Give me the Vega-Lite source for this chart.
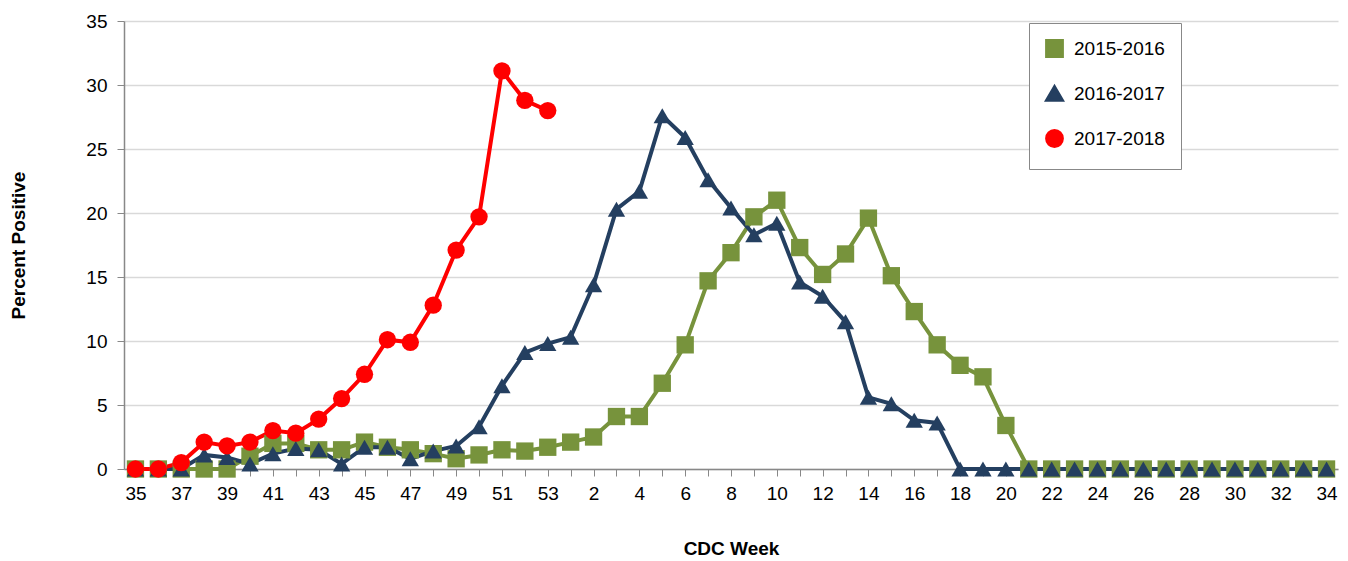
{
  "$schema": "https://vega.github.io/schema/vega-lite/v6.json",
  "width": 1348,
  "height": 561,
  "autosize": {"type": "fit", "contains": "padding"},
  "padding": {"left": 9, "top": 12, "right": 10, "bottom": 3},
  "config": {"font": "Liberation Sans", "view": {"stroke": null}},
  "data": {"name": "rows", "values": [
    {"season": "2015-2016", "week": "35", "value": 0}, {"season": "2015-2016", "week": "36", "value": 0}, {"season": "2015-2016", "week": "37", "value": 0}, {"season": "2015-2016", "week": "38", "value": 0}, {"season": "2015-2016", "week": "39", "value": 0}, {"season": "2015-2016", "week": "40", "value": 1.0}, {"season": "2015-2016", "week": "41", "value": 2.0}, {"season": "2015-2016", "week": "42", "value": 2.0}, {"season": "2015-2016", "week": "43", "value": 1.5}, {"season": "2015-2016", "week": "44", "value": 1.5}, {"season": "2015-2016", "week": "45", "value": 2.1}, {"season": "2015-2016", "week": "46", "value": 1.7}, {"season": "2015-2016", "week": "47", "value": 1.5}, {"season": "2015-2016", "week": "48", "value": 1.2}, {"season": "2015-2016", "week": "49", "value": 0.8}, {"season": "2015-2016", "week": "50", "value": 1.1}, {"season": "2015-2016", "week": "51", "value": 1.5}, {"season": "2015-2016", "week": "52", "value": 1.4}, {"season": "2015-2016", "week": "53", "value": 1.7},
    {"season": "2015-2016", "week": "1", "value": 2.1}, {"season": "2015-2016", "week": "2", "value": 2.5}, {"season": "2015-2016", "week": "3", "value": 4.1}, {"season": "2015-2016", "week": "4", "value": 4.1}, {"season": "2015-2016", "week": "5", "value": 6.7}, {"season": "2015-2016", "week": "6", "value": 9.7}, {"season": "2015-2016", "week": "7", "value": 14.7}, {"season": "2015-2016", "week": "8", "value": 16.9}, {"season": "2015-2016", "week": "9", "value": 19.7}, {"season": "2015-2016", "week": "10", "value": 21.0}, {"season": "2015-2016", "week": "11", "value": 17.3}, {"season": "2015-2016", "week": "12", "value": 15.2}, {"season": "2015-2016", "week": "13", "value": 16.8}, {"season": "2015-2016", "week": "14", "value": 19.6}, {"season": "2015-2016", "week": "15", "value": 15.1}, {"season": "2015-2016", "week": "16", "value": 12.3}, {"season": "2015-2016", "week": "17", "value": 9.7}, {"season": "2015-2016", "week": "18", "value": 8.1}, {"season": "2015-2016", "week": "19", "value": 7.2}, {"season": "2015-2016", "week": "20", "value": 3.4},
    {"season": "2015-2016", "week": "21", "value": 0}, {"season": "2015-2016", "week": "22", "value": 0}, {"season": "2015-2016", "week": "23", "value": 0}, {"season": "2015-2016", "week": "24", "value": 0}, {"season": "2015-2016", "week": "25", "value": 0}, {"season": "2015-2016", "week": "26", "value": 0}, {"season": "2015-2016", "week": "27", "value": 0}, {"season": "2015-2016", "week": "28", "value": 0}, {"season": "2015-2016", "week": "29", "value": 0}, {"season": "2015-2016", "week": "30", "value": 0}, {"season": "2015-2016", "week": "31", "value": 0}, {"season": "2015-2016", "week": "32", "value": 0}, {"season": "2015-2016", "week": "33", "value": 0}, {"season": "2015-2016", "week": "34", "value": 0},

    {"season": "2016-2017", "week": "35", "value": 0}, {"season": "2016-2017", "week": "36", "value": 0}, {"season": "2016-2017", "week": "37", "value": 0}, {"season": "2016-2017", "week": "38", "value": 1.1}, {"season": "2016-2017", "week": "39", "value": 0.9}, {"season": "2016-2017", "week": "40", "value": 0.4}, {"season": "2016-2017", "week": "41", "value": 1.2}, {"season": "2016-2017", "week": "42", "value": 1.6}, {"season": "2016-2017", "week": "43", "value": 1.5}, {"season": "2016-2017", "week": "44", "value": 0.4}, {"season": "2016-2017", "week": "45", "value": 1.7}, {"season": "2016-2017", "week": "46", "value": 1.7}, {"season": "2016-2017", "week": "47", "value": 0.8}, {"season": "2016-2017", "week": "48", "value": 1.4}, {"season": "2016-2017", "week": "49", "value": 1.8}, {"season": "2016-2017", "week": "50", "value": 3.3}, {"season": "2016-2017", "week": "51", "value": 6.5}, {"season": "2016-2017", "week": "52", "value": 9.1}, {"season": "2016-2017", "week": "53", "value": 9.8},
    {"season": "2016-2017", "week": "1", "value": 10.3}, {"season": "2016-2017", "week": "2", "value": 14.4}, {"season": "2016-2017", "week": "3", "value": 20.3}, {"season": "2016-2017", "week": "4", "value": 21.7}, {"season": "2016-2017", "week": "5", "value": 27.6}, {"season": "2016-2017", "week": "6", "value": 25.9}, {"season": "2016-2017", "week": "7", "value": 22.6}, {"season": "2016-2017", "week": "8", "value": 20.4}, {"season": "2016-2017", "week": "9", "value": 18.3}, {"season": "2016-2017", "week": "10", "value": 19.2}, {"season": "2016-2017", "week": "11", "value": 14.6}, {"season": "2016-2017", "week": "12", "value": 13.5}, {"season": "2016-2017", "week": "13", "value": 11.5}, {"season": "2016-2017", "week": "14", "value": 5.6}, {"season": "2016-2017", "week": "15", "value": 5.1}, {"season": "2016-2017", "week": "16", "value": 3.8}, {"season": "2016-2017", "week": "17", "value": 3.6}, {"season": "2016-2017", "week": "18", "value": 0}, {"season": "2016-2017", "week": "19", "value": 0}, {"season": "2016-2017", "week": "20", "value": 0},
    {"season": "2016-2017", "week": "21", "value": 0}, {"season": "2016-2017", "week": "22", "value": 0}, {"season": "2016-2017", "week": "23", "value": 0}, {"season": "2016-2017", "week": "24", "value": 0}, {"season": "2016-2017", "week": "25", "value": 0}, {"season": "2016-2017", "week": "26", "value": 0}, {"season": "2016-2017", "week": "27", "value": 0}, {"season": "2016-2017", "week": "28", "value": 0}, {"season": "2016-2017", "week": "29", "value": 0}, {"season": "2016-2017", "week": "30", "value": 0}, {"season": "2016-2017", "week": "31", "value": 0}, {"season": "2016-2017", "week": "32", "value": 0}, {"season": "2016-2017", "week": "33", "value": 0}, {"season": "2016-2017", "week": "34", "value": 0},

    {"season": "2017-2018", "week": "35", "value": 0}, {"season": "2017-2018", "week": "36", "value": 0}, {"season": "2017-2018", "week": "37", "value": 0.5}, {"season": "2017-2018", "week": "38", "value": 2.1}, {"season": "2017-2018", "week": "39", "value": 1.8}, {"season": "2017-2018", "week": "40", "value": 2.1}, {"season": "2017-2018", "week": "41", "value": 3.0}, {"season": "2017-2018", "week": "42", "value": 2.8}, {"season": "2017-2018", "week": "43", "value": 3.9}, {"season": "2017-2018", "week": "44", "value": 5.5}, {"season": "2017-2018", "week": "45", "value": 7.4}, {"season": "2017-2018", "week": "46", "value": 10.1}, {"season": "2017-2018", "week": "47", "value": 9.9}, {"season": "2017-2018", "week": "48", "value": 12.8}, {"season": "2017-2018", "week": "49", "value": 17.1}, {"season": "2017-2018", "week": "50", "value": 19.7}, {"season": "2017-2018", "week": "51", "value": 31.1}, {"season": "2017-2018", "week": "52", "value": 28.8}, {"season": "2017-2018", "week": "53", "value": 28.0}
  ]},
  "encoding": {
    "x": {
      "field": "week", "type": "ordinal", "title": "CDC Week",
      "sort": ["35","36","37","38","39","40","41","42","43","44","45","46","47","48","49","50","51","52","53","1","2","3","4","5","6","7","8","9","10","11","12","13","14","15","16","17","18","19","20","21","22","23","24","25","26","27","28","29","30","31","32","33","34"],
      "scale": {"type": "point", "padding": 0.5},
      "axis": {
        "labelAngle": 0, "labelFontSize": 19, "labelColor": "#000", "labelOverlap": false,
        "labelExpr": "(toNumber(datum.value) >= 35 ? toNumber(datum.value) % 2 == 1 : toNumber(datum.value) % 2 == 0) ? datum.value : ''",
        "titleFontSize": 19, "titleFontWeight": "bold", "titlePadding": 36,
        "domainColor": "#888", "domainWidth": 1.5, "tickColor": "#888", "tickSize": 7, "labelPadding": 8
      }
    },
    "y": {
      "field": "value", "type": "quantitative", "title": "Percent Positive",
      "scale": {"domain": [0, 35]},
      "axis": {
        "values": [0,5,10,15,20,25,30,35], "labelFontSize": 19, "labelColor": "#000",
        "titleFontSize": 19, "titleFontWeight": "bold", "titlePadding": 57,
        "gridColor": "#d9d9d9", "gridWidth": 1.5, "domainColor": "#888", "domainWidth": 1.5,
        "tickColor": "#888", "tickSize": 7, "labelPadding": 10
      }
    },
    "color": {
      "field": "season", "type": "nominal", "title": null,
      "scale": {"domain": ["2015-2016","2016-2017","2017-2018"], "range": ["#77933C","#243F60","#FF0000"]},
      "legend": {
        "orient": "none", "legendX": 905, "legendY": 2, "labelFontSize": 19, "labelColor": "#000",
        "symbolSize": 250, "rowPadding": 17, "padding": 16, "strokeColor": "#888",
        "fillColor": "white", "symbolStrokeWidth": 3, "labelOffset": 10
      }
    },
    "shape": {
      "field": "season", "type": "nominal",
      "scale": {"domain": ["2015-2016","2016-2017","2017-2018"], "range": ["square","triangle-up","circle"]}
    }
  },
  "layer": [
    {"mark": {"type": "line", "strokeWidth": 4}},
    {"mark": {"type": "point", "filled": true, "size": 300, "opacity": 1}}
  ]
}
